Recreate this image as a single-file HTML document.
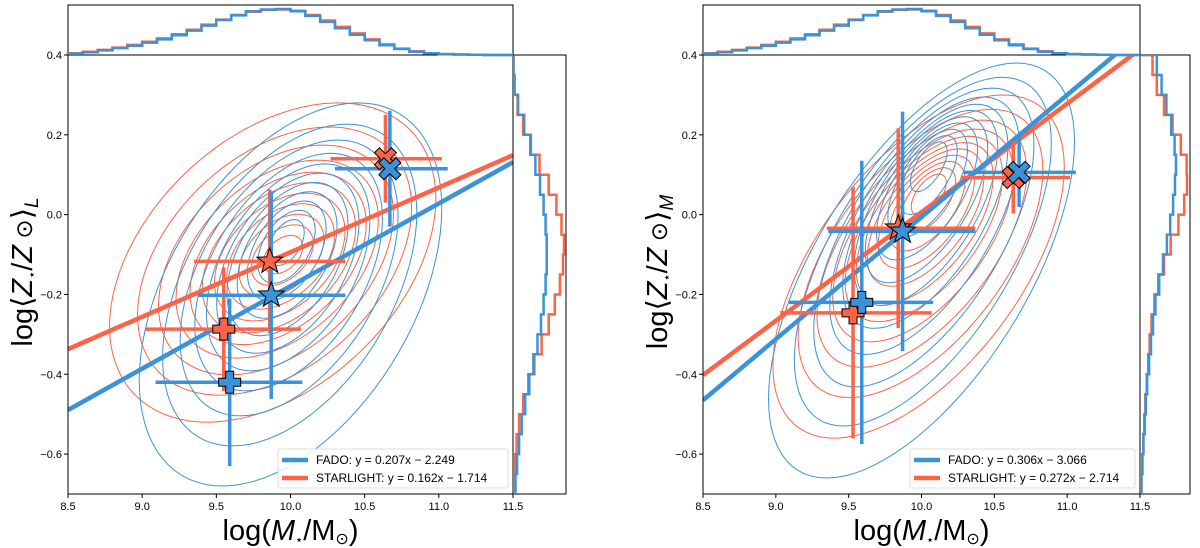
<!DOCTYPE html>
<html><head><meta charset="utf-8"><style>
body{margin:0;background:#fff}
svg{display:block;font-family:"Liberation Sans","DejaVu Sans",sans-serif}
</style></head><body>
<svg id="fig" width="1200" height="548" viewBox="0 0 1200 548" xmlns="http://www.w3.org/2000/svg"></svg>
<script>
// ---- data ----
const xTicks = [8.5, 9.0, 9.5, 10.0, 10.5, 11.0, 11.5];
const yTicks = [-0.6, -0.4, -0.2, 0.0, 0.2, 0.4];
const fitL_fado = [0.207, -2.249];
const fitL_star = [0.162, -1.714];
const fitR_fado = [0.306, -3.066];
const fitR_star = [0.272, -2.714];
// points: [x, y, xlo, xhi, yerr]
const ptsL_fado = [[9.87,-0.202,9.38,10.37,0.26],[9.59,-0.42,9.09,10.08,0.21],[10.67,0.115,10.30,11.06,0.145]];
const ptsL_star = [[9.86,-0.117,9.35,10.37,0.18],[9.55,-0.287,9.02,10.07,0.155],[10.64,0.14,10.27,11.02,0.11]];
const ptsR_fado = [[9.87,-0.042,9.36,10.37,0.30],[9.59,-0.22,9.09,10.08,0.355],[10.67,0.106,10.29,11.06,0.087]];
const ptsR_star = [[9.84,-0.034,9.35,10.37,0.25],[9.53,-0.246,9.03,10.07,0.315],[10.63,0.093,10.27,11.02,0.09]];
const markerKinds = ['star','plus','x'];
// contour params: [outer cx, outer cy, ax, ay, rho, inner cx, inner cy]
const contL_fado = [10.0,-0.2,1.02,0.48,0.45,9.97,-0.07];
const contL_star = [9.88,-0.12,1.1,0.40,0.40,9.95,-0.10];
const contR_fado = [10.0,-0.14,1.05,0.52,0.62,10.05,0.12];
const contR_star = [9.98,-0.13,1.0,0.43,0.58,10.05,0.05];
const contourLevels = [1.0,0.84,0.72,0.62,0.54,0.47,0.40,0.33,0.26,0.19,0.12];
// top histogram (bins 8.5..11.5 step 0.1)
const histTop_fado = [0.03,0.06,0.1,0.15,0.2,0.27,0.34,0.43,0.53,0.64,0.76,0.86,0.95,0.99,1.0,0.95,0.85,0.72,0.58,0.44,0.32,0.21,0.13,0.07,0.04,0.02,0.01,0.005,0,0];
const histTop_star = [0.04,0.07,0.11,0.16,0.22,0.29,0.36,0.45,0.55,0.66,0.77,0.87,0.94,0.98,0.99,0.96,0.87,0.75,0.61,0.47,0.34,0.23,0.14,0.08,0.04,0.02,0.01,0.005,0,0];
// right histograms (bins -0.7..0.4 step 0.05)
const histRL_star = [0.02,0.04,0.07,0.12,0.2,0.3,0.42,0.56,0.7,0.82,0.92,0.98,1.0,0.95,0.85,0.7,0.52,0.35,0.2,0.09,0.03,0.01];
const histRL_fado = [0.05,0.08,0.12,0.17,0.24,0.32,0.4,0.48,0.55,0.6,0.64,0.66,0.66,0.64,0.6,0.53,0.44,0.34,0.22,0.1,0.03,0.01];
const histRR_star = [0.03,0.05,0.07,0.09,0.11,0.14,0.17,0.2,0.24,0.3,0.38,0.5,0.64,0.8,0.92,0.98,0.97,0.85,0.68,0.5,0.35,0.26];
const histRR_fado = [0.03,0.05,0.07,0.1,0.12,0.15,0.19,0.23,0.27,0.32,0.4,0.48,0.56,0.63,0.69,0.73,0.75,0.72,0.65,0.55,0.45,0.35];

const BLUE='#3a93d8', RED='#fd6347';
const NS='http://www.w3.org/2000/svg';
const svg=document.getElementById('fig');
function mk(tag,attrs,parent){const e=document.createElementNS(NS,tag);for(const k in attrs)e.setAttribute(k,attrs[k]);(parent||svg).appendChild(e);return e;}

function panel(P){
  const g=mk('g',{});
  
  
  const X0=P.x0,X1=P.x1,Y0=55,Y1=494;
  const sx=v=>X0+(v-8.5)/3*(X1-X0);
  const sy=v=>Y0+(0.4-v)/1.1*(Y1-Y0);
  const cid='clip'+P.id;
  const cp=mk('clipPath',{id:cid},g);mk('rect',{x:X0,y:Y0,width:X1-X0,height:Y1-Y0},cp);
  const plot=mk('g',{'clip-path':`url(#${cid})`},g);
  function contours(c,col,nm){
    const cg=mk('g',{},plot);
    
    
    contourLevels.forEach(k=>{
      const f=(1-k)/0.88;
      const cx=c[0]+(c[5]-c[0])*f, cy=c[1]+(c[6]-c[1])*f;
      let d='';
      for(let i=0;i<=90;i++){const t=i/90*2*Math.PI;
        const x=cx+c[2]*k*Math.cos(t);
        const y=cy+c[3]*k*(c[4]*Math.cos(t)+Math.sqrt(1-c[4]*c[4])*Math.sin(t));
        d+=(i?'L':'M')+sx(x).toFixed(1)+','+sy(y).toFixed(1);}
      const p=mk('path',{d:d+'Z',fill:'none',stroke:col,'stroke-width':1},cg);
      
      
    });
  }
  contours(P.cs,RED,'starlight-contours');
  contours(P.cf,BLUE,'fado-contours');
  function fit(f,col,nm){const l=mk('line',{x1:sx(8.5),y1:sy(f[0]*8.5+f[1]),x2:sx(11.5),y2:sy(f[0]*11.5+f[1]),stroke:col,'stroke-width':4.5},plot);
    }
  function pts(arr,col,nm){
    arr.forEach((p,i)=>{
      const eg=mk('g',{},plot);
      
      
      mk('line',{x1:sx(p[2]),x2:sx(p[3]),y1:sy(p[1]),y2:sy(p[1]),stroke:col,'stroke-width':3.5},eg);
      mk('line',{x1:sx(p[0]),x2:sx(p[0]),y1:sy(p[1]-p[4]),y2:sy(p[1]+p[4]),stroke:col,'stroke-width':3.5},eg);
    });
  }
  function marker(arr,col){
    arr.forEach((p,i)=>{
      const cx=sx(p[0]),cy=sy(p[1]);let d='';
      if(markerKinds[i]==='star'){for(let j=0;j<10;j++){const r=j%2?5.5:13.5,a=-Math.PI/2+j*Math.PI/5;d+=(j?'L':'M')+(cx+r*Math.cos(a)).toFixed(1)+','+(cy+r*Math.sin(a)).toFixed(1);}}
      else if(markerKinds[i]==='plus'){const a=4,b=11;d=`M${cx-a},${cy-b}H${cx+a}V${cy-a}H${cx+b}V${cy+a}H${cx+a}V${cy+b}H${cx-a}V${cy+a}H${cx-b}V${cy-a}H${cx-a}Z`;}
      else{const q=[[0,-5],[6,-11],[11,-6],[5,0],[11,6],[6,11],[0,5],[-6,11],[-11,6],[-5,0],[-11,-6],[-6,-11]];d=q.map((u,j)=>(j?'L':'M')+(cx+u[0])+','+(cy+u[1])).join('')+'Z';}
      const m=mk('path',{d:d+'Z',fill:col,stroke:'#000','stroke-width':1},plot);
      
      
    });
  }
  fit(P.fs,RED,'starlight-fit-line');
  fit(P.ff,BLUE,'fado-fit-line');
  pts(P.ps,RED,'starlight-errorbar');pts(P.pf,BLUE,'fado-errorbar');
  marker(P.ps,RED);marker(P.pf,BLUE);
  const fr=mk('rect',{x:X0,y:Y0,width:P.hx-X0,height:Y1-Y0,fill:'none',stroke:'#000','stroke-width':1},g);
  
  mk('line',{x1:X1,x2:X1,y1:Y0,y2:Y1,stroke:'#000','stroke-width':1},g);
  const tf=mk('rect',{x:X0,y:5,width:X1-X0,height:50,fill:'none',stroke:'#000','stroke-width':1},g);
  
  function topHist(h,col,nm){let d=`M${sx(8.5)},55`;h.forEach((v,i)=>{const y=55-v*46;d+=`V${y.toFixed(1)}H${sx(8.5+(i+1)*0.1).toFixed(1)}`;});d+='V55';
    const p=mk('path',{d,fill:'none',stroke:col,'stroke-width':2.5},g);}
  topHist(histTop_star,RED,'top-histogram-starlight');
  topHist(histTop_fado,BLUE,'top-histogram-fado');
  const rc=mk('clipPath',{id:'rc'+P.id},g);mk('rect',{x:X1+1,y:Y0,width:P.hx-X1,height:Y1-Y0},rc);
  function rightHist(h,col,nm){let d=`M${X1},${sy(-0.7)}`;h.forEach((v,i)=>{const x=X1+v*(P.hx-X1-2);d+=`H${x.toFixed(1)}V${sy(-0.7+(i+1)*0.05).toFixed(1)}`;});d+=`H${X1}`;
    const p=mk('path',{d,fill:'none',stroke:col,'stroke-width':2.5,'clip-path':`url(#rc${P.id})`},g);}
  rightHist(P.hs,RED,'right-histogram-starlight');rightHist(P.hf,BLUE,'right-histogram-fado');
  xTicks.forEach(v=>{mk('line',{x1:sx(v),x2:sx(v),y1:Y1,y2:Y1+4,stroke:'#000'},g);
    const t=mk('text',{x:sx(v),y:Y1+16,'font-size':11,'text-anchor':'middle'},g);t.textContent=v.toFixed(1);
    });
  yTicks.forEach(v=>{mk('line',{x1:X0-4,x2:X0,y1:sy(v),y2:sy(v),stroke:'#000'},g);
    const t=mk('text',{x:X0-6,y:sy(v)+4,'font-size':11,'text-anchor':'end'},g);t.textContent=(v<0?'\u2212':'')+Math.abs(v).toFixed(1);
    });
  const xl=mk('text',{x:(X0+X1)/2,y:540,'font-size':29,'text-anchor':'middle'},g);
  xl.innerHTML='log(<tspan font-style="italic">M</tspan><tspan font-size="13" dy="4">\u22c6</tspan><tspan dy="-4">/M</tspan><tspan font-size="16" dy="4">\u2299</tspan><tspan dy="-4">)</tspan>';
  
  const yl=mk('text',{x:0,y:0,'font-size':29,'text-anchor':'middle',transform:`translate(${X0-36},272) rotate(-90)`},g);
  yl.innerHTML='log\u27e8<tspan font-style="italic">Z</tspan><tspan font-size="13" dy="4">\u22c6</tspan><tspan dy="-4">/</tspan><tspan font-style="italic">Z</tspan><tspan font-size="23"> \u2299</tspan>\u27e9<tspan font-size="19" font-style="italic" dy="6">'+P.sub+'</tspan>';
  
  const lg=mk('g',{},g);
  const lx=P.lx,ly=449;
  mk('rect',{x:lx,y:ly,width:X1-5-lx,height:39,fill:'#fff','fill-opacity':0.85,stroke:'#ddd',rx:2},lg);
  [[BLUE,P.tf],[RED,P.ts]].forEach((e,i)=>{const y=ly+11+i*18;
    const en=mk('g',{},lg);
    mk('line',{x1:lx+4,x2:lx+30,y1:y,y2:y,stroke:e[0],'stroke-width':4.5},en);
    const t=mk('text',{x:lx+38,y:y+4,'font-size':12},en);t.textContent=e[1];});
}
panel({id:'L',name:'luminosity-weighted-panel',x0:68,x1:513,hx:566,cf:contL_fado,cs:contL_star,ff:fitL_fado,fs:fitL_star,pf:ptsL_fado,ps:ptsL_star,hs:histRL_star,hf:histRL_fado,sub:'L',lx:278,tf:'FADO: y = 0.207x \u2212 2.249',ts:'STARLIGHT: y = 0.162x \u2212 1.714'});
panel({id:'R',name:'mass-weighted-panel',x0:703,x1:1140,hx:1190,cf:contR_fado,cs:contR_star,ff:fitR_fado,fs:fitR_star,pf:ptsR_fado,ps:ptsR_star,hs:histRR_star,hf:histRR_fado,sub:'M',lx:910,tf:'FADO: y = 0.306x \u2212 3.066',ts:'STARLIGHT: y = 0.272x \u2212 2.714'});
</script>
</body></html>
